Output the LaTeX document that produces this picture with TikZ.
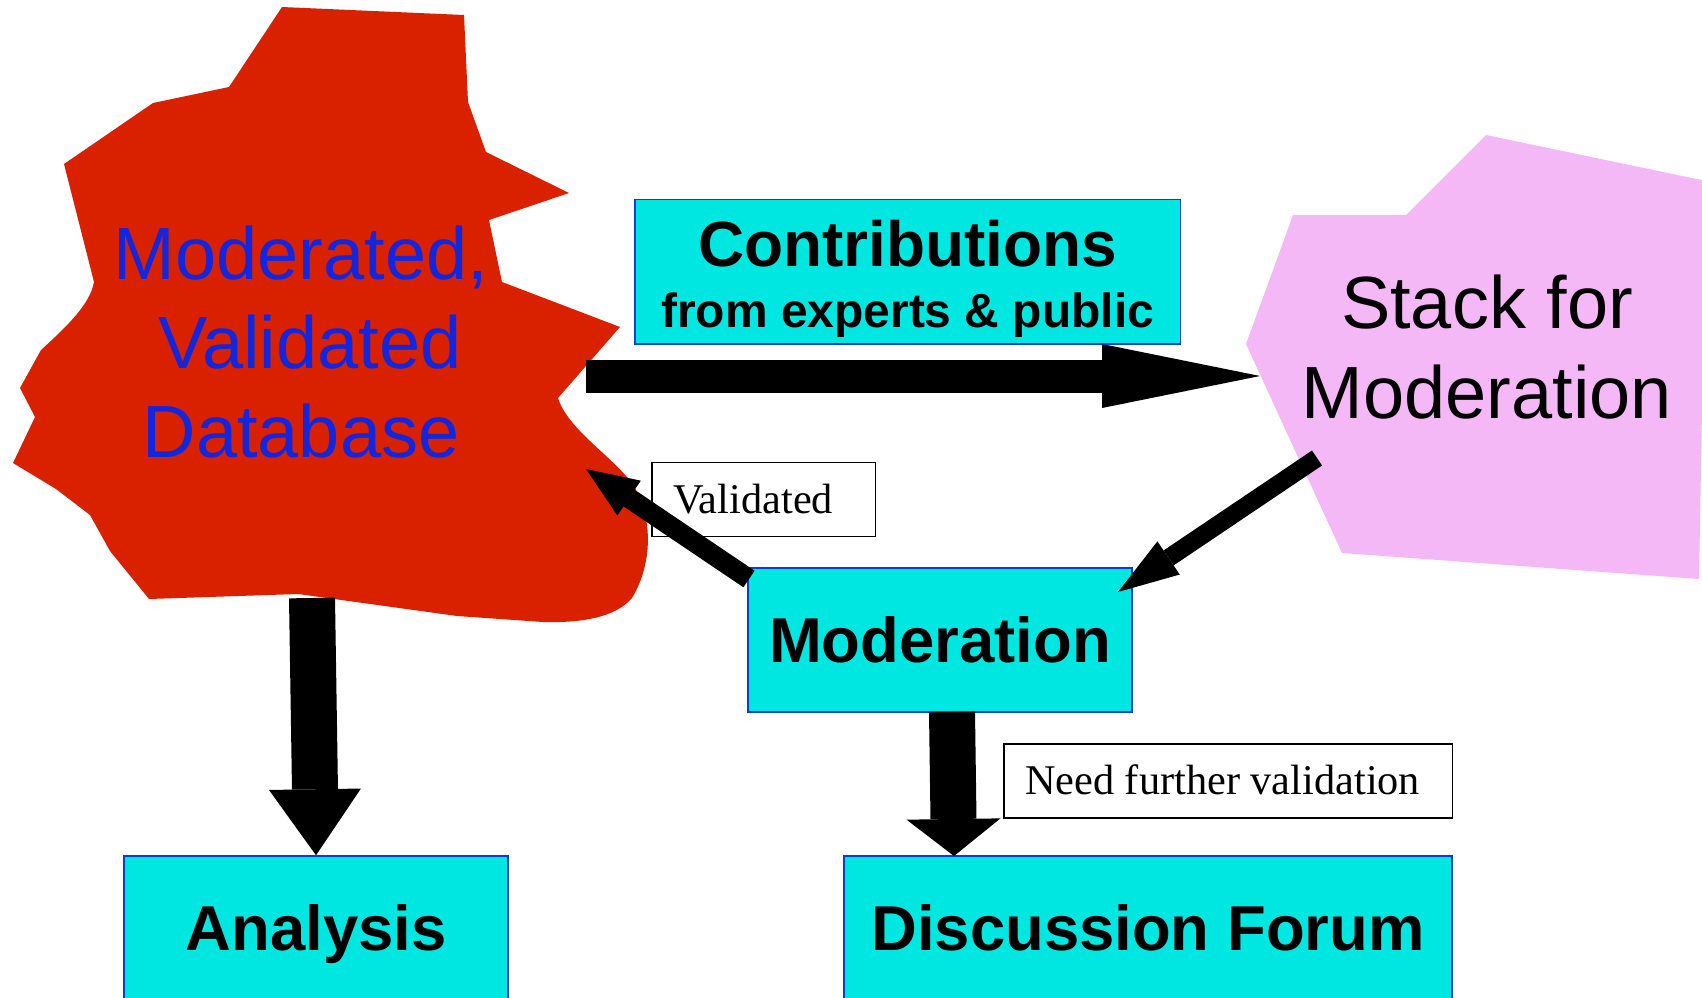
\documentclass[tikz,border=0pt]{standalone}
\usepackage{fontspec}
\setmainfont{Liberation Sans}
\newfontfamily\tagfont{Liberation Serif}
\usetikzlibrary{arrows.meta}

\definecolor{dbred}{RGB}{217,33,0}
\definecolor{dbblue}{RGB}{18,38,222}
\definecolor{stkpink}{RGB}{244,184,246}
\definecolor{boxcyan}{RGB}{0,231,225}
\definecolor{boxline}{RGB}{10,60,230}

\tikzset{fat/.style n args={3}{line width=#1, -{Triangle[length=#2, width=#3, line width=0pt]}}}

\begin{document}
\begin{tikzpicture}[x=0.02cm, y=-0.02cm, line join=miter]
    \tikzstyle{stage}=[rectangle, draw=boxline, line width=0.9pt, fill=boxcyan, inner sep=0pt, font=\bfseries\fontsize{36.1}{43}\selectfont, text height=26pt, text depth=0pt]
    \tikzstyle{tag}=[rectangle, draw, line width=1.1pt, fill=white, inner xsep=0.43cm, inner ysep=0pt, minimum height=1.48cm, align=flush left, font=\tagfont\fontsize{24.1}{28}\selectfont, text height=15.9pt, text depth=0pt]
    \tikzstyle{big}=[font=\fontsize{42.1}{50.9}\selectfont, align=center]

    \useasboundingbox (0,0) rectangle (1702,997);
    \clip (0,0) rectangle (1702,997);

    % database blob
    \fill[dbred] (282,7) -- (464,15) -- (468,102) -- (486,152) -- (569,193) -- (489,220)
        -- (502,282) -- (620,327) -- (558,398)
        .. controls (568,430) and (615,458) .. (633,485)
        .. controls (651,512) and (655,560) .. (632,598)
        .. controls (615,618) and (580,623) .. (543,622)
        -- (457,616) -- (298,594) -- (149,599) -- (110,551) -- (90,515) -- (56,489)
        -- (13,463) -- (35,417) -- (20,388) -- (41,350)
        .. controls (65,328) and (90,305) .. (94,282)
        -- (64,164) -- (153,103) -- (229,87) -- cycle;

    % stack
    \fill[stkpink] (1486,135) -- (1706,181) -- (1699,579) -- (1342,553) -- (1246,344)
        -- (1293,215) -- (1406,215) -- cycle;

    \node[big, text=dbblue] (db) at (301,342) {Moderated,\\\hspace*{0.36cm}Validated\\Database};
    \node[big] (stk) at (1487,347) {Stack for\\Moderation};

    \node[stage, minimum width=10.91cm, minimum height=2.9cm] (con) at (907.7,271.8) {};
    \node[anchor=base, font=\bfseries\fontsize{36.4}{40}\selectfont] (con1) at (907.7,266) {Contributions};
    \node[anchor=base, font=\bfseries\fontsize{27.3}{30}\selectfont] (con2) at (907.7,327) {from experts \& public};

    \node[stage, minimum width=7.68cm, minimum height=2.88cm] (mod) at (940,640) {Moderation};
    \node[stage, minimum width=7.68cm, minimum height=2.88cm] (ana) at (316,928) {Analysis};
    \node[stage, minimum width=12.17cm, minimum height=2.88cm] (dis) at (1148,928) {Discussion Forum};

    \node[tag, text width=3.62cm] (val) at (763.5,499.5) {Validated};
    \node[tag, text width=8.12cm] (nfv) at (1228,781) {Need further validation};

    \coordinate (dbE) at (586,376);
    \coordinate (stkW) at (1260,376);
    \coordinate (stkS) at (1317,458);
    \coordinate (modNE) at (1118,592);
    \coordinate (modNW) at (749,579);
    \coordinate (dbR) at (586,469);
    \coordinate (dbS) at (312,598);
    \coordinate (modS) at (952,712);
    \coordinate (disN) at (954,856);

    \draw[fat={0.66cm}{3.16cm}{1.28cm}] (dbE) -- (stkW);
    \draw[fat={0.36cm}{1.22cm}{0.8cm}] (stkS) -- (modNE);
    \draw[fat={0.4cm}{1.04cm}{0.84cm}] (modNW) -- (dbR);
    \draw[fat={0.92cm}{1.32cm}{1.84cm}] (dbS) -- (ana.north);
    \draw[fat={0.92cm}{0.74cm}{1.88cm}] (modS) -- (disN);

\end{tikzpicture}
\end{document}
